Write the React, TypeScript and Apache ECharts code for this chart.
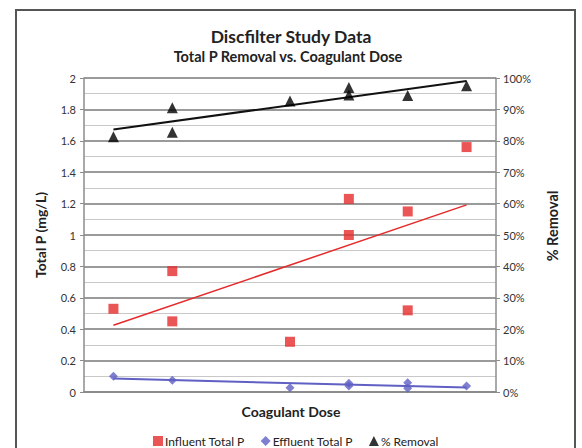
import React, { useEffect, useRef } from "react";
import * as echarts from "echarts";

const titleText = "Discfilter Study Data";
const subtitleText = "Total P Removal vs. Coagulant Dose";
const xName = "Coagulant Dose";
const leftName = "Total P (mg/L)";
const rightName = "% Removal";
const seriesNames = ["Influent Total P", "Effluent Total P", "% Removal"];

const influentX = [1, 2, 2, 4, 5, 5, 6, 6, 7];
const influentY = [0.53, 0.77, 0.45, 0.32, 1.23, 1.0, 1.15, 0.52, 1.56];
const effluentX = [1, 2, 4, 5, 5, 6, 6, 7];
const effluentY = [0.1, 0.075, 0.027, 0.055, 0.038, 0.059, 0.024, 0.038];
const removalX = [1, 2, 2, 4, 5, 5, 6, 7];
const removalY = [81.3, 90.5, 82.7, 92.7, 97, 94.6, 94.4, 97.5];

function pairs(xs: number[], ys: number[]) {
  return xs.map((x, i) => [x, ys[i]]);
}

function trend(xs: number[], ys: number[]) {
  const n = xs.length;
  const mx = xs.reduce((a, b) => a + b, 0) / n;
  const my = ys.reduce((a, b) => a + b, 0) / n;
  let sxy = 0;
  let sxx = 0;
  for (let i = 0; i < n; i++) {
    sxy += (xs[i] - mx) * (ys[i] - my);
    sxx += (xs[i] - mx) * (xs[i] - mx);
  }
  const b = sxy / sxx;
  const a = my - b * mx;
  const x0 = Math.min(...xs);
  const x1 = Math.max(...xs);
  return [
    [x0, a + b * x0],
    [x1, a + b * x1],
  ];
}

const FONT = "Lato, 'Open Sans', sans-serif";

export default function App() {
  const ref = useRef<HTMLDivElement>(null);
  useEffect(() => {
    if (!ref.current) return;
    const chart = echarts.init(ref.current, undefined, { renderer: "svg" });
    const red = "#e52a2a";
    const blue = "#5f5fc4";
    const textStyleBase = {
      fontFamily: FONT,
      fontWeight: "bold",
      fill: "#222",
      textAlign: "center",
      textVerticalAlign: "middle",
    };
    chart.setOption({
      animation: false,
      backgroundColor: "#ffffff",
      textStyle: { fontFamily: FONT },
      graphic: [
        {
          type: "rect",
          shape: { x: 16, y: 10, width: 559, height: 460 },
          style: { fill: "none", stroke: "#555555", lineWidth: 2 },
          silent: true,
        },
        {
          type: "text",
          x: 291,
          y: 36,
          style: { ...textStyleBase, text: titleText, fontSize: 17.5 },
        },
        {
          type: "text",
          x: 288,
          y: 56,
          style: { ...textStyleBase, text: subtitleText, fontSize: 14.5 },
        },
        {
          type: "text",
          x: 291,
          y: 411,
          style: { ...textStyleBase, text: xName, fontSize: 14 },
        },
        {
          type: "text",
          x: 40,
          y: 235,
          rotation: Math.PI / 2,
          style: { ...textStyleBase, text: leftName, fontSize: 14 },
        },
        {
          type: "text",
          x: 552,
          y: 226,
          rotation: Math.PI / 2,
          style: { ...textStyleBase, text: rightName, fontSize: 14.5 },
        },
      ],
      legend: {
        data: [
          { name: seriesNames[0], icon: "rect" },
          { name: seriesNames[1], icon: "diamond" },
          { name: seriesNames[2], icon: "triangle" },
        ],
        left: 148,
        top: 430,
        itemWidth: 10,
        itemHeight: 10,
        itemGap: 16,
        textStyle: { fontFamily: FONT, fontSize: 12, color: "#222", padding: [0, 0, 0, -3] },
      },
      grid: { left: 84, right: 86, top: 78, bottom: 56, containLabel: false },
      xAxis: {
        type: "value",
        min: 0.5,
        max: 7.5,
        axisLabel: { show: false },
        axisTick: { show: false },
        splitLine: { show: false },
        axisLine: { show: true, lineStyle: { color: "#8c8c8c", width: 2 } },
      },
      yAxis: [
        {
          type: "value",
          min: 0,
          max: 2,
          interval: 0.2,
          axisLine: { show: true, lineStyle: { color: "#8c8c8c", width: 1.5 } },
          axisTick: { show: true, length: 4, lineStyle: { color: "#8c8c8c" } },
          axisLabel: { fontFamily: FONT, fontSize: 11, color: "#333", margin: 8 },
          splitLine: { show: true, lineStyle: { color: "#9a9a9a", width: 2 } },
          minorTick: { show: false, splitNumber: 2 },
          minorSplitLine: { show: true, lineStyle: { color: "#c8c8c8", width: 1 } },
        },
        {
          type: "value",
          min: 0,
          max: 100,
          interval: 10,
          position: "right",
          axisLine: { show: true, lineStyle: { color: "#8c8c8c", width: 1.5 } },
          axisTick: { show: true, length: 4, lineStyle: { color: "#8c8c8c" } },
          axisLabel: { fontFamily: FONT, fontSize: 11, color: "#333", margin: 7, formatter: "{value}%" },
          splitLine: { show: false },
        },
      ],
      series: [
        {
          name: "Influent trend",
          type: "line",
          data: trend(influentX, influentY),
          symbol: "none",
          lineStyle: { color: red, width: 1.5 },
          yAxisIndex: 0,
          z: 3,
        },
        {
          name: "Effluent trend",
          type: "line",
          data: trend(effluentX, effluentY),
          symbol: "none",
          lineStyle: { color: blue, width: 2 },
          yAxisIndex: 0,
          z: 3,
        },
        {
          name: "Removal trend",
          type: "line",
          data: trend(removalX, removalY),
          symbol: "none",
          lineStyle: { color: "#111", width: 2 },
          yAxisIndex: 1,
          z: 3,
        },
        {
          name: seriesNames[0],
          type: "scatter",
          data: pairs(influentX, influentY),
          symbol: "rect",
          symbolSize: 10,
          itemStyle: { color: red },
          yAxisIndex: 0,
          z: 4,
        },
        {
          name: seriesNames[1],
          type: "scatter",
          data: pairs(effluentX, effluentY),
          symbol: "diamond",
          symbolSize: 9,
          itemStyle: { color: blue },
          yAxisIndex: 0,
          z: 4,
        },
        {
          name: seriesNames[2],
          type: "scatter",
          data: pairs(removalX, removalY),
          symbol: "triangle",
          symbolSize: 11,
          itemStyle: { color: "#000" },
          yAxisIndex: 1,
          z: 4,
        },
      ],
    });
    return () => chart.dispose();
  }, []);
  return (
    <div
      ref={ref}
      style={{ position: "fixed", left: 0, top: 0, width: 582, height: 448 }}
    />
  );
}
